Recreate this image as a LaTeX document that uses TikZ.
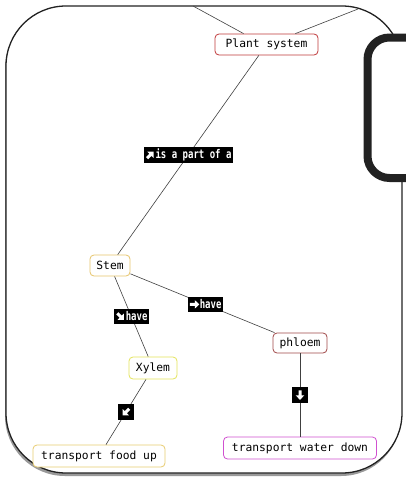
\documentclass[tikz,border=0pt]{standalone}
\usepackage{fontspec}
\setmonofont{DejaVu Sans Mono}
\newfontfamily\labfont[FakeStretch=0.75]{DejaVu Sans Mono}
\usetikzlibrary{shadows}

\definecolor{plantred}{HTML}{C0393B}
\definecolor{stemorange}{HTML}{E6C46A}
\definecolor{xylemyellow}{HTML}{E4E45A}
\definecolor{phloembrown}{HTML}{A04848}
\definecolor{foodorange}{HTML}{E8CC70}
\definecolor{watermagenta}{HTML}{D050D0}
\definecolor{framegray}{HTML}{222222}

\begin{document}
\begin{tikzpicture}[x=1pt,y=-1pt,
  concept/.style={draw, rounded corners=4pt, line width=0.8pt, fill=white,
    inner sep=0pt, text=black, minimum height=21pt,
    font=\ttfamily\fontsize{11.3}{12}\selectfont},
  linklab/.style={fill=black, text=white, inner xsep=1.5pt, inner ysep=0pt,
    minimum height=15.5pt, font=\labfont\bfseries\fontsize{12}{12}\selectfont},
  arrowlab/.style={fill=black, inner sep=0pt,
    minimum width=15.5pt, minimum height=16.5pt},
  link/.style={draw=black!75, line width=0.6pt},
  panel/.style={draw=framegray, fill=white,
    drop shadow={shadow xshift=-1pt, shadow yshift=-3pt, opacity=0.4, fill=black}},
  fatarrow/.pic={\fill[white] (-4.6,-1.5) -- (0.3,-1.5) -- (0.3,-4.3) -- (4.9,0)
      -- (0.3,4.3) -- (0.3,1.5) -- (-4.6,1.5) -- cycle;},
]
\useasboundingbox (0,0) rectangle (405,479);

% outer rounded panel
\draw[panel, line width=1.3pt, rounded corners=60pt] (6,6) rectangle (402,473);

% concepts
\node[concept, draw=plantred, minimum width=103pt] (plant) at (266.5,44.5) {Plant system};
\node[concept, draw=stemorange, minimum width=40pt] (stem) at (110,265.5) {Stem};
\node[concept, draw=xylemyellow, minimum width=48pt, minimum height=22pt] (xylem) at (153,368) {Xylem};
\node[concept, draw=phloembrown, minimum width=54pt, minimum height=20pt] (phloem) at (300,343) {phloem};
\node[concept, draw=foodorange, minimum width=132pt, minimum height=22pt] (food) at (99,456) {transport food up};
\node[concept, draw=watermagenta, minimum width=153pt, minimum height=22pt] (water) at (300,448) {transport water down};

% links leaving the panel at the top
\coordinate (upA) at (193,6);
\coordinate (upB) at (358,9);
\draw[link] (plant.north west) ++(29pt,0) -- (upA);
\draw[link] (plant.north east) ++(-23pt,0) -- (upB);

% labelled links; each label starts with a direction arrow
\draw[link] (plant) -- node[linklab] (partof) {\hspace{10.5pt}is a part of a} (stem);
\draw[link] (stem) -- node[linklab] (havex) {\hspace{10.5pt}have} (xylem);
\draw[link] (stem) -- node[linklab, pos=0.52] (havep) {\hspace{10.5pt}have} (phloem);
\draw[link] (xylem) -- node[arrowlab] (tofood) {} (food);
\draw[link] (phloem) -- node[arrowlab] (towater) {} (water);

\pic[rotate=45] at ([xshift=7pt]partof.west) {fatarrow};
\pic[rotate=-45] at ([xshift=7pt]havex.west) {fatarrow};
\pic at ([xshift=7pt]havep.west) {fatarrow};
\pic[rotate=-135] at (tofood.center) {fatarrow};
\pic[rotate=-90] at (towater.center) {fatarrow};

% thick panel on the right
\draw[panel, line width=8pt, rounded corners=22pt] (367.5,37.5) rectangle (450,178);
\end{tikzpicture}
\end{document}
